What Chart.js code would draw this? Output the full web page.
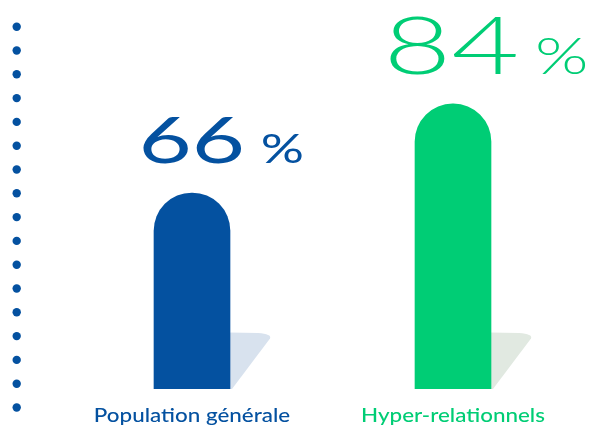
<!DOCTYPE html>
<html>
<head>
<meta charset="utf-8">
<script src="https://cdn.jsdelivr.net/npm/chart.js@4/dist/chart.umd.min.js"></script>
<style>
  html, body { margin: 0; padding: 0; background: #ffffff; }
  #wrap { width: 596px; height: 427px; }
</style>
</head>
<body>
<div id="wrap"><canvas id="c" width="596" height="427"></canvas></div>
<script>
// Share of each group (percent)
const categories = ['Population générale', 'Hyper-relationnels'];
const values = [66, 84];
const valueSuffix = '%';

const barColors = ['#0451a0', '#00cd75'];
const shadowColors = ['#d8e2ee', '#e1e9e1'];
const figureWeights = ['400', '300'];

const BAR_W = 76;

// Decorative dotted rule on the left edge
const dottedRule = {
  id: 'dottedRule',
  beforeDraw(chart) {
    const ctx = chart.ctx;
    ctx.save();
    ctx.fillStyle = '#0451a0';
    for (let y = 26.7; y < 440; y += 23.8) {
      ctx.beginPath();
      ctx.arc(16.7, y, 4.2, 0, Math.PI * 2);
      ctx.fill();
    }
    ctx.restore();
  }
};

// Soft wedge shadow at the foot of each bar
const barShadow = {
  id: 'barShadow',
  beforeDatasetsDraw(chart) {
    const ctx = chart.ctx;
    const xs = chart.scales.x;
    const base = chart.scales.y.getPixelForValue(chart.scales.y.min);
    ctx.save();
    values.forEach((v, i) => {
      const xr = xs.getPixelForValue(i) + BAR_W / 2;
      ctx.fillStyle = shadowColors[i];
      ctx.beginPath();
      ctx.moveTo(xr - 1, base - 56.5);
      ctx.lineTo(xr + 28, base - 56);
      ctx.quadraticCurveTo(xr + 42, base - 55, xr + 40, base - 50.5);
      ctx.lineTo(xr + 2, base);
      ctx.lineTo(xr - 1, base);
      ctx.closePath();
      ctx.fill();
    });
    ctx.restore();
  }
};

// Big value figures above the bars and category names below them
const barLabels = {
  id: 'barLabels',
  afterDatasetsDraw(chart) {
    const ctx = chart.ctx;
    const xs = chart.scales.x;
    const ys = chart.scales.y;
    ctx.save();
    values.forEach((v, i) => {
      const cx = xs.getPixelForValue(i);
      const top = ys.getPixelForValue(v);
      ctx.fillStyle = barColors[i];

      // number, stretched wide, centred on the bar
      const numSize = v * 0.96;
      const baseline = top - 30;
      ctx.font = figureWeights[i] + ' ' + numSize + 'px Lato';
      ctx.textBaseline = 'alphabetic';
      ctx.textAlign = 'left';
      const txt = String(v);
      const m = ctx.measureText(txt);
      const inkW = m.actualBoundingBoxRight + m.actualBoundingBoxLeft;
      const sx = 1.45;
      const left = cx - inkW * sx / 2;
      ctx.save();
      ctx.translate(left, baseline);
      ctx.scale(sx, 1);
      ctx.fillText(txt, m.actualBoundingBoxLeft, 0);
      ctx.restore();

      // percent sign
      const pctSize = numSize * 0.64;
      ctx.font = figureWeights[i] + ' ' + pctSize + 'px Lato';
      const pm = ctx.measureText(valueSuffix);
      const psx = 1.33;
      const pLeft = left + inkW * sx + 21;
      ctx.save();
      ctx.translate(pLeft, baseline);
      ctx.scale(psx, 1);
      ctx.fillText(valueSuffix, pm.actualBoundingBoxLeft, 0);
      ctx.restore();

      // category name, slightly widened
      ctx.font = '500 20px Lato';
      ctx.save();
      ctx.translate(cx, 422);
      ctx.scale(1.12, 1);
      ctx.textAlign = 'center';
      ctx.fillText(categories[i], 0, 0);
      ctx.restore();
    });
    ctx.restore();
  }
};

new Chart(document.getElementById('c'), {
  type: 'bar',
  data: {
    labels: categories,
    datasets: [{
      data: values,
      backgroundColor: barColors,
      barThickness: BAR_W,
      borderSkipped: 'bottom',
      borderRadius: { topLeft: 38, topRight: 38, bottomLeft: 0, bottomRight: 0 }
    }]
  },
  options: {
    responsive: false,
    animation: false,
    layout: { padding: { left: 61.5, right: 12.5, top: 0, bottom: 38 } },
    plugins: { legend: { display: false }, tooltip: { enabled: false } },
    scales: {
      x: { display: false },
      y: { display: false, min: 26.4, max: 105 }
    }
  },
  plugins: [dottedRule, barShadow, barLabels]
});
</script>
</body>
</html>
